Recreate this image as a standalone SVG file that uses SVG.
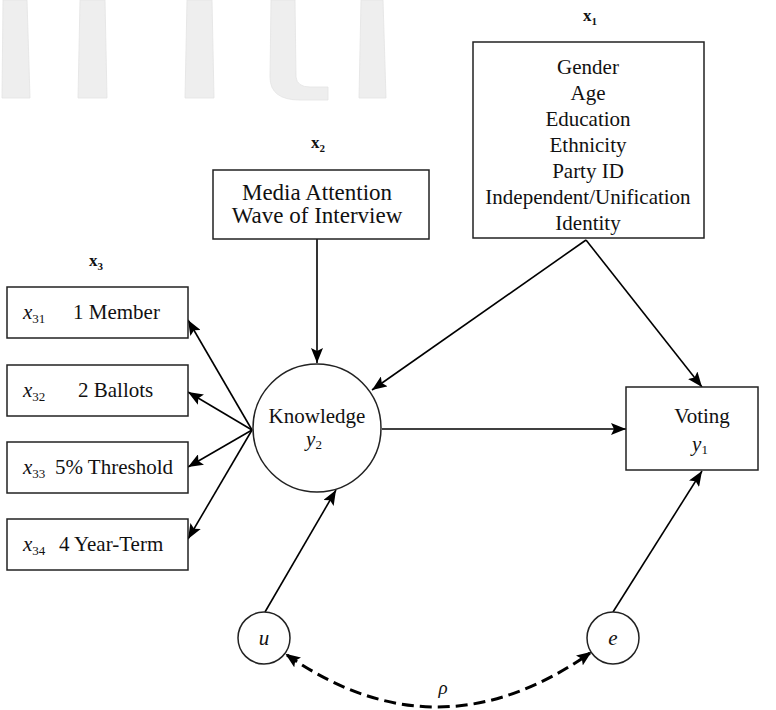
<svg xmlns="http://www.w3.org/2000/svg" width="776" height="710" viewBox="0 0 776 710">
<style>
text{font-family:"Liberation Serif","Times New Roman","DejaVu Serif",serif;fill:#111;}
.box{fill:#fff;stroke:#222;stroke-width:1.5;}
.circ{fill:#fff;stroke:#222;stroke-width:1.5;}
.t{font-size:21px;text-anchor:middle;}
.t2{font-size:23px;text-anchor:middle;}
.lbl{font-size:17px;font-weight:bold;text-anchor:middle;}
.sub{font-size:11px;}
.it{font-style:italic;}
.wm{fill:#eeeeee;stroke:#e3e3e3;stroke-width:0.8;}
.con{stroke:#000;stroke-width:1.6;fill:none;marker-end:url(#ah);}
.dash{stroke:#000;stroke-width:3;fill:none;stroke-dasharray:12 6;marker-start:url(#ahb);marker-end:url(#ahb);}
</style>
<defs>
<marker id="ah" markerUnits="userSpaceOnUse" markerWidth="16" markerHeight="12" refX="15" refY="6" orient="auto">
<path d="M0,0 L15,6 L0,12 L3,6 z" fill="#000"/>
</marker>
<marker id="ahb" markerUnits="userSpaceOnUse" markerWidth="16" markerHeight="12" refX="13" refY="6" orient="auto-start-reverse">
<path d="M0,0 L15,6 L0,12 L3,6 z" fill="#000"/>
</marker>
</defs>
<g id="watermark">
<path class="wm" d="M3,0 L27,0 L30,98 L2,98 z"/>
<path class="wm" d="M80,0 L105,0 L107,98 L78,98 z"/>
<path class="wm" d="M187,0 L212,0 L214,98 L185,98 z"/>
<path class="wm" d="M271,0 L295,0 L296,77 Q297,87 310,87 L328,87 L328,100 L300,100 Q270,100 270,77 z"/>
<path class="wm" d="M361,0 L383,0 L386,98 L359,98 z"/>
</g>
<g id="connectors">
<line class="con" x1="317" y1="239" x2="317" y2="363"/>
<line class="con" x1="586" y1="240" x2="372" y2="390"/>
<line class="con" x1="586" y1="240" x2="702" y2="387"/>
<line class="con" x1="382" y1="429" x2="626" y2="429"/>
<line class="con" x1="252" y1="430" x2="188" y2="320"/>
<line class="con" x1="252" y1="430" x2="188" y2="392"/>
<line class="con" x1="252" y1="430" x2="188" y2="467"/>
<line class="con" x1="252" y1="430" x2="188" y2="539"/>
<line class="con" x1="265" y1="612" x2="336" y2="490"/>
<line class="con" x1="613" y1="612" x2="702" y2="471"/>
<path class="dash" d="M287,655 Q438,760 590,653"/>
<text x="443" y="694" class="t it" style="font-size:19px">ρ</text>
</g>
<g id="x1">
<text x="590" y="21" class="lbl">x<tspan class="sub" dy="4">1</tspan></text>
<rect class="box" x="473" y="42" width="231" height="196"/>
<text x="588" y="74" class="t">Gender</text>
<text x="588" y="100" class="t">Age</text>
<text x="588" y="126" class="t">Education</text>
<text x="588" y="152" class="t">Ethnicity</text>
<text x="588" y="178" class="t">Party ID</text>
<text x="588" y="204" class="t">Independent/Unification</text>
<text x="588" y="230" class="t">Identity</text>
</g>
<g id="x2">
<text x="318" y="148" class="lbl">x<tspan class="sub" dy="4">2</tspan></text>
<rect class="box" x="213" y="170" width="216" height="69"/>
<text x="317" y="200" class="t2">Media Attention</text>
<text x="317" y="223" class="t2">Wave of Interview</text>
</g>
<g id="x3">
<text x="96" y="266" class="lbl">x<tspan class="sub" dy="4">3</tspan></text>
</g>
<g id="x31">
<rect class="box" x="7" y="287" width="181" height="51"/>
<text x="23" y="319" style="font-size:21px" class="it">x<tspan class="sub" style="font-style:normal;font-size:13px" dy="4">31</tspan></text>
<text x="73" y="319" style="font-size:21px">1 Member</text>
</g>
<g id="x32">
<rect class="box" x="7" y="365" width="181" height="51"/>
<text x="23" y="397" style="font-size:21px" class="it">x<tspan class="sub" style="font-style:normal;font-size:13px" dy="4">32</tspan></text>
<text x="78" y="397" style="font-size:21px">2 Ballots</text>
</g>
<g id="x33">
<rect class="box" x="7" y="442" width="181" height="51"/>
<text x="23" y="474" style="font-size:21px" class="it">x<tspan class="sub" style="font-style:normal;font-size:13px" dy="4">33</tspan></text>
<text x="55" y="474" style="font-size:21px">5% Threshold</text>
</g>
<g id="x34">
<rect class="box" x="7" y="519" width="181" height="51"/>
<text x="23" y="551" style="font-size:21px" class="it">x<tspan class="sub" style="font-style:normal;font-size:13px" dy="4">34</tspan></text>
<text x="59" y="551" style="font-size:21px">4 Year-Term</text>
</g>
<g id="knowledge">
<circle class="circ" cx="317" cy="428" r="64"/>
<text x="317" y="423" class="t">Knowledge</text>
<text x="314" y="446" class="t it">y<tspan style="font-style:normal;font-size:13px" dy="3">2</tspan></text>
</g>
<g id="voting">
<rect class="box" x="626" y="387" width="132" height="83"/>
<text x="702" y="423" class="t">Voting</text>
<text x="700" y="451" class="t it">y<tspan style="font-style:normal;font-size:13px" dy="3">1</tspan></text>
</g>
<g id="u">
<circle class="circ" cx="264" cy="638" r="26"/>
<text x="264" y="645" class="t it">u</text>
</g>
<g id="e">
<circle class="circ" cx="613" cy="638" r="26"/>
<text x="613" y="645" class="t it">e</text>
</g>
</svg>
